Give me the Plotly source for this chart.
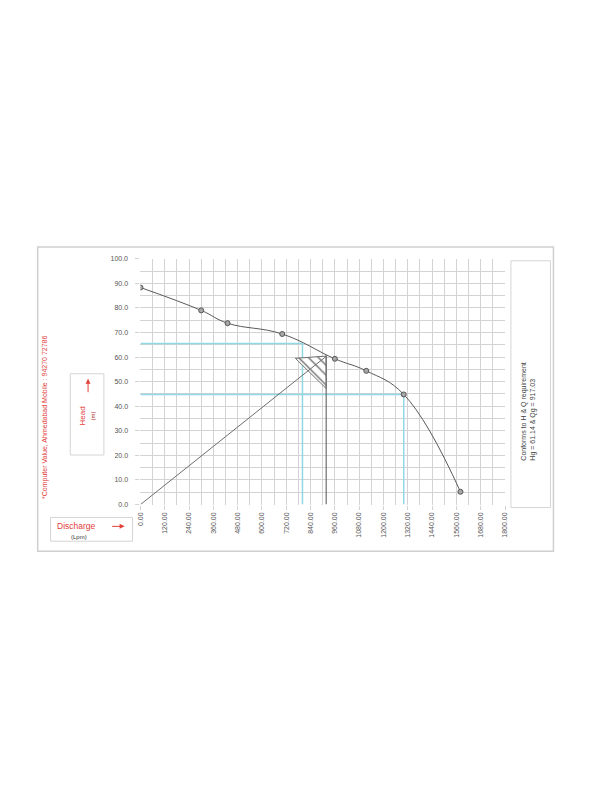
import plotly.graph_objects as go

# ---- data ----
flow_lpm = [0, 300, 430, 700, 960, 1115, 1300, 1580]
head_m = [88.3, 79.0, 73.8, 69.4, 59.3, 54.4, 44.8, 5.2]

sys_q = [0, 917.03]
sys_h = [0, 60.3]

duty_q = [917.03, 917.03]
duty_h = [0, 60.8]

ref1_q = [0, 800, 800]
ref1_h = [65.5, 65.5, 0]
ref2_q = [0, 1300, 1300]
ref2_h = [44.8, 44.8, 0]

tri_q = [765, 917.03, 917.03, 765]
tri_h = [59.5, 60.4, 47.2, 59.5]

x_ticks = [0, 120, 240, 360, 480, 600, 720, 840, 960, 1080, 1200, 1320, 1440, 1560, 1680, 1800]
y_ticks = [0, 10, 20, 30, 40, 50, 60, 70, 80, 90, 100]

W, H, OFF = 584, 784, 8


def X(px):
    return (px - OFF) / W


def Y(py):
    return 1 - (py - OFF) / H


RED = "#e2403a"
GRID = "#d3d3d3"
CYAN = "#8fd8e4"
DARK = "#6e6e6e"
FONT = "Liberation Sans"

fig = go.Figure()

fig.add_trace(go.Scatter(x=ref1_q, y=ref1_h, mode="lines", line=dict(color=CYAN, width=1.5), hoverinfo="skip"))
fig.add_trace(go.Scatter(x=ref2_q, y=ref2_h, mode="lines", line=dict(color=CYAN, width=1.5), hoverinfo="skip"))
fig.add_trace(go.Scatter(x=tri_q, y=tri_h, mode="lines", fill="toself",
                         fillpattern=dict(shape="\\", size=7, solidity=0.18, fgcolor="#666666", bgcolor="white", fillmode="replace"),
                         line=dict(color=DARK, width=1), hoverinfo="skip"))
fig.add_trace(go.Scatter(x=sys_q, y=sys_h, mode="lines", line=dict(color=DARK, width=1), hoverinfo="skip"))
fig.add_trace(go.Scatter(x=duty_q, y=duty_h, mode="lines", line=dict(color=DARK, width=1.2), hoverinfo="skip"))
fig.add_trace(go.Scatter(x=flow_lpm, y=head_m, mode="lines+markers",
                         line=dict(color="#5a5a5a", width=1, shape="spline", smoothing=1.2),
                         marker=dict(size=5, color="#a8a8a8", line=dict(color="#555555", width=1))))

fig.update_layout(
    width=W, height=H, margin=dict(l=0, r=0, t=0, b=0),
    paper_bgcolor="white", plot_bgcolor="white", showlegend=False,
    font=dict(family=FONT, size=7, color="#555555"),
    xaxis=dict(domain=[X(138), X(507)], range=[0, 1800], tickvals=x_ticks, tickformat=".2f",
               tickangle=-90, showgrid=True, gridcolor=GRID, gridwidth=1, zeroline=False, showline=False,
               ticks="outside", ticklen=4, tickcolor=GRID, tickfont=dict(size=7, color="#555555"),
               minor=dict(dtick=60, tick0=0, showgrid=True, gridcolor=GRID, gridwidth=1)),
    yaxis=dict(domain=[Y(505), Y(257)], range=[0, 100], tickvals=y_ticks, tickformat=".1f",
               showgrid=True, gridcolor=GRID, gridwidth=1, zeroline=False, showline=False,
               ticks="outside", ticklen=4, tickcolor=GRID, ticklabelstandoff=6, tickfont=dict(size=7, color="#555555"),
               minor=dict(dtick=5, tick0=0, showgrid=True, gridcolor=GRID, gridwidth=1)),
)

shapes = [
    dict(type="rect", xref="paper", yref="paper", x0=X(34), x1=X(556), y0=Y(552), y1=Y(245),
         line=dict(color="#cfcfcf", width=1.5)),
    dict(type="rect", xref="paper", yref="paper", x0=X(513), x1=X(553), y0=Y(508), y1=Y(259),
         line=dict(color="#d5d5d5", width=1)),
    dict(type="rect", xref="paper", yref="paper", x0=X(67), x1=X(101), y0=Y(455), y1=Y(373),
         line=dict(color="#d5d5d5", width=1)),
    dict(type="rect", xref="paper", yref="paper", x0=X(47), x1=X(130), y0=Y(542), y1=Y(518),
         line=dict(color="#d5d5d5", width=1)),
]
fig.update_layout(shapes=shapes)

ann = [
    dict(xref="paper", yref="paper", x=X(531), y=Y(463), xanchor="center", yanchor="bottom",
         text="Conforms to H & Q requirement<br>Hg = 61.14 & Qg = 917.03", textangle=-90, align="left",
         showarrow=False, font=dict(size=7, color="#444444", family=FONT)),
    dict(xref="paper", yref="paper", x=X(42), y=Y(417), xanchor="center", yanchor="middle",
         text="*Computer Value, Ahmedabad Mobile : 94270 72786", textangle=-90,
         showarrow=False, font=dict(size=7, color=RED, family=FONT)),
    dict(xref="paper", yref="paper", x=X(84), y=Y(416), xanchor="center", yanchor="middle",
         text="Head<br><span style='font-size:6px;color:#b03030'>(m)</span>", textangle=-90,
         showarrow=False, font=dict(size=8, color=RED, family=FONT)),
    dict(xref="paper", yref="paper", x=X(73), y=Y(527), xanchor="center", yanchor="middle",
         text="Discharge", showarrow=False, font=dict(size=8.5, color=RED, family=FONT)),
    dict(xref="paper", yref="paper", x=X(76), y=Y(538), xanchor="center", yanchor="middle",
         text="(Lpm)", showarrow=False, font=dict(size=6, color="#333333", family=FONT)),
    dict(xref="paper", yref="paper", x=X(122), y=Y(527), ax=-14, ay=0, text="", showarrow=True,
         arrowhead=2, arrowsize=1, arrowwidth=1, arrowcolor=RED),
    dict(xref="paper", yref="paper", x=X(85), y=Y(378), ax=0, ay=15, text="", showarrow=True,
         arrowhead=2, arrowsize=1, arrowwidth=1, arrowcolor=RED),
]
fig.update_layout(annotations=ann)

fig.write_html("out.html")
